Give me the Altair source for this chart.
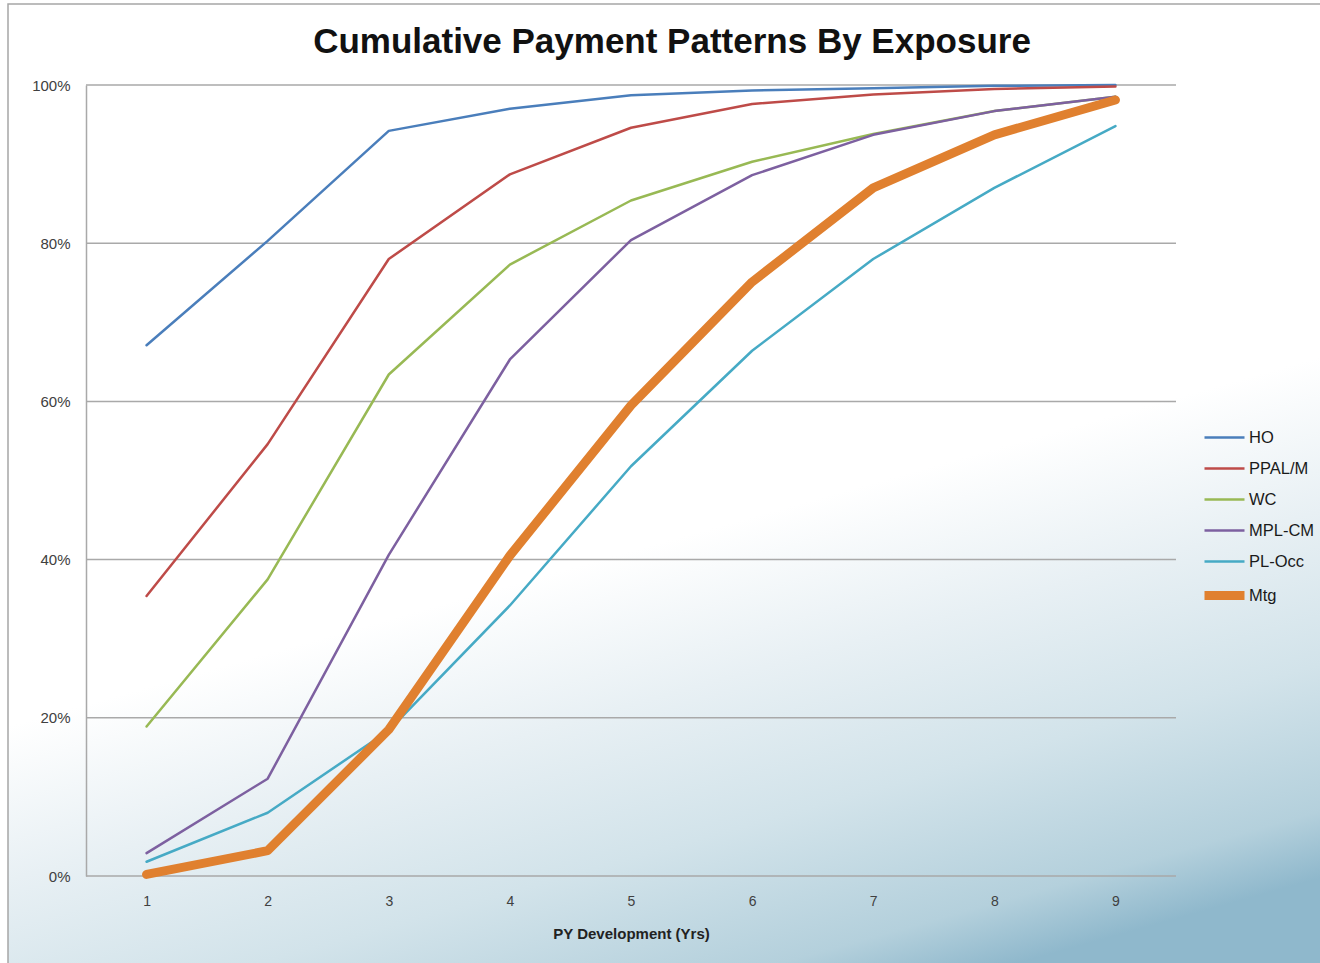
import altair as alt
import pandas as pd

# Development year (x) and cumulative share paid by exposure (y, fraction of ultimate)
years = [1, 2, 3, 4, 5, 6, 7, 8, 9]
series_names = ["HO", "PPAL/M", "WC", "MPL-CM", "PL-Occ", "Mtg"]

ho     = [0.671, 0.803, 0.942, 0.970, 0.987, 0.993, 0.996, 0.999, 1.000]
ppal_m = [0.354, 0.546, 0.780, 0.887, 0.946, 0.976, 0.988, 0.995, 0.998]
wc     = [0.189, 0.375, 0.634, 0.773, 0.854, 0.903, 0.938, 0.967, 0.985]
mpl_cm = [0.029, 0.123, 0.406, 0.653, 0.804, 0.886, 0.937, 0.967, 0.985]
pl_occ = [0.018, 0.080, 0.184, 0.342, 0.518, 0.664, 0.780, 0.870, 0.948]
mtg    = [0.002, 0.032, 0.185, 0.405, 0.595, 0.751, 0.870, 0.937, 0.981]

series_values = [ho, ppal_m, wc, mpl_cm, pl_occ, mtg]
series_colors = ["#4A7EBB", "#BE4B48", "#98B954", "#7D60A0", "#46AAC5", "#E0802F"]
series_widths = [2.5, 2.5, 2.5, 2.5, 2.5, 9]

grid_values = [0.0, 0.2, 0.4, 0.6, 0.8, 1.0]
chart_title = "Cumulative Payment Patterns By Exposure"

rows = []
for name, vals in zip(series_names, series_values):
    for yr, v in zip(years, vals):
        rows.append({"Year": yr, "Share": v, "Series": name})
df = pd.DataFrame(rows)

W, H = 1090, 791
PAD_L, PAD_T = 86, 85
PAD_R = 1320 - PAD_L - W
PAD_B = 963 - PAD_T - H

x_scale = alt.Scale(domain=[0.5, 9.5], nice=False, zero=False)
y_scale = alt.Scale(domain=[0, 1], nice=False)

# Soft white-to-blue backdrop behind the whole figure
backdrop = alt.Chart(pd.DataFrame({"k": [0]})).mark_rect(
    fill=alt.Gradient(
        gradient="linear",
        x1=0.45, y1=0.42, x2=0.68, y2=1.02,
        stops=[
            alt.GradientStop(offset=0.0, color="#ffffff"),
            alt.GradientStop(offset=0.22, color="#ffffff"),
            alt.GradientStop(offset=0.45, color="#e8f0f4"),
            alt.GradientStop(offset=0.68, color="#d2e3ea"),
            alt.GradientStop(offset=0.9, color="#b4d0dc"),
            alt.GradientStop(offset=1.0, color="#8fb8cc"),
        ],
    ),
    stroke="#a6a6a6",
    strokeWidth=1.5,
).encode(
    x=alt.value(8 - PAD_L),
    x2=alt.value(1330 - PAD_L),
    y=alt.value(4 - PAD_T),
    y2=alt.value(975 - PAD_T),
)

heading = alt.Chart(pd.DataFrame({"t": [chart_title]})).mark_text(
    font="Liberation Sans",
    fontSize=35,
    fontWeight="bold",
    color="#111111",
    align="center",
    baseline="alphabetic",
).encode(
    text="t:N",
    x=alt.value(672 - PAD_L),
    y=alt.value(53 - PAD_T),
)

gridlines = alt.Chart(pd.DataFrame({"v": grid_values})).mark_rule(
    color="#a9a9a9", strokeWidth=1.5
).encode(
    y=alt.Y("v:Q", scale=y_scale),
    x=alt.value(0),
    x2=alt.value(W),
)

legend_cfg = dict(
    title=None,
    orient="none",
    legendX=1200 - PAD_L,
    legendY=416 - PAD_T,
    symbolType="stroke",
    symbolSize=1600,
    labelFont="Liberation Sans",
    labelFontSize=16.5,
    labelColor="#1a1a1a",
    labelOffset=0,
    rowPadding=1,
    padding=0,
)

lines = alt.Chart(df).mark_line(strokeCap="round", strokeJoin="round").encode(
    x=alt.X(
        "Year:Q",
        scale=x_scale,
        axis=alt.Axis(
            values=years,
            format="d",
            grid=False,
            domain=False,
            ticks=False,
            tickSize=0,
            labelPadding=18,
            labelFont="Liberation Sans",
            labelFontSize=14,
            labelColor="#404040",
            title="PY Development (Yrs)",
            titleFont="Liberation Sans",
            titleFontSize=15,
            titleFontWeight="bold",
            titleColor="#222222",
            titlePadding=18,
            zindex=1,
        ),
    ),
    y=alt.Y(
        "Share:Q",
        scale=y_scale,
        axis=alt.Axis(
            values=grid_values,
            format=".0%",
            grid=False,
            domain=True,
            domainColor="#a9a9a9",
            domainWidth=1.5,
            ticks=False,
            tickSize=0,
            labelPadding=16,
            labelFont="Liberation Sans",
            labelFontSize=15,
            labelColor="#404040",
            title=None,
            zindex=1,
        ),
    ),
    color=alt.Color(
        "Series:N",
        scale=alt.Scale(type="ordinal", domain=series_names, range=series_colors),
        sort=series_names,
        legend=alt.Legend(**legend_cfg),
    ),
    strokeWidth=alt.StrokeWidth(
        "Series:N",
        scale=alt.Scale(type="ordinal", domain=series_names, range=series_widths),
        sort=series_names,
        legend=alt.Legend(**legend_cfg),
    ),
    order=alt.Order("Year:Q"),
)

chart = alt.layer(backdrop, heading, gridlines, lines).properties(
    width=W,
    height=H,
    autosize=alt.AutoSizeParams(type="none"),
    padding={"left": PAD_L, "top": PAD_T, "right": PAD_R, "bottom": PAD_B},
).configure(
    background="#ffffff",
).configure_view(
    stroke=None,
)

chart.save("out.html", embed_options={"renderer": "svg", "actions": False})
